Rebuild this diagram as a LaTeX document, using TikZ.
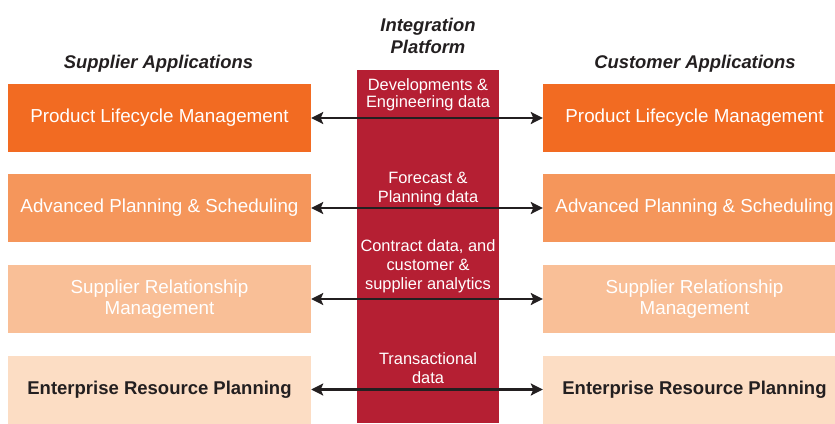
\documentclass[tikz,border=0pt]{standalone}
\usepackage{fontspec}
\setmainfont{Liberation Sans}
\usetikzlibrary{calc}
\usetikzlibrary{arrows.meta}

\definecolor{plmorange}{HTML}{F26B22}
\definecolor{apsorange}{HTML}{F5965B}
\definecolor{srmorange}{HTML}{F9BF97}
\definecolor{erporange}{HTML}{FCDDC4}
\definecolor{platformred}{HTML}{B51F33}
\definecolor{darktext}{HTML}{231F20}

\begin{document}
\begin{tikzpicture} [x=1pt, y=-1pt,
  app/.style={minimum width=303pt, minimum height=68pt, inner sep=0, align=center,
    text=white, font=\fontsize{18.8}{20.5}\selectfont},
  heading/.style={text=darktext, align=center, font=\fontsize{18.4}{22}\selectfont\bfseries\itshape},
  flow/.style={text=white, align=center, font=\fontsize{16.4}{19}\selectfont},
  link/.style={darktext, line width=2.8pt, <->, >={Stealth[length=12pt, width=12pt, inset=2.5pt]}}]
\useasboundingbox (0,0) rectangle (835,423);
\clip (0,0) rectangle (835,423);
\fill[platformred] (357,70) rectangle (499,423);
% headings
\node[heading] (supplier) at (158.5,64) {Supplier Applications};
\node[heading] (customer) at (695,64) {Customer Applications};
\node[heading] (platform) at (428,36) {Integration\\Platform};
% supplier side
\node[app, fill=plmorange] (sPLM) at (159.5,118) {Product Lifecycle Management};
\node[app, fill=apsorange] (sAPS) at (159.5,208) {Advanced Planning \& Scheduling};
\node[app, fill=srmorange] (sSRM) at (159.5,299) {Supplier Relationship\\Management};
\node[app, fill=erporange, text=darktext, font=\fontsize{18.5}{20.5}\selectfont\bfseries] (sERP) at (159.5,389.5) {Enterprise Resource Planning};
% customer side
\node[app, fill=plmorange] (cPLM) at (694.5,118) {Product Lifecycle Management};
\node[app, fill=apsorange] (cAPS) at (694.5,208) {Advanced Planning \& Scheduling};
\node[app, fill=srmorange] (cSRM) at (694.5,299) {Supplier Relationship\\Management};
\node[app, fill=erporange, text=darktext, font=\fontsize{18.5}{20.5}\selectfont\bfseries] (cERP) at (694.5,389.5) {Enterprise Resource Planning};
% data flows
\node[flow, font=\fontsize{16.4}{17}\selectfont] (dev) at (428,94.5) {Developments \&\\Engineering data};
\node[flow] (fcst) at (428,189.5) {Forecast \&\\Planning data};
\node[flow] (contract) at (428,266) {Contract data, and\\customer \&\\supplier analytics};
\node[flow] (trans) at (428,368.5) {Transactional\\data};
\foreach \app in {PLM, APS, SRM, ERP}
  \draw[link] (s\app) -- (c\app);
\end{tikzpicture}
\end{document}
